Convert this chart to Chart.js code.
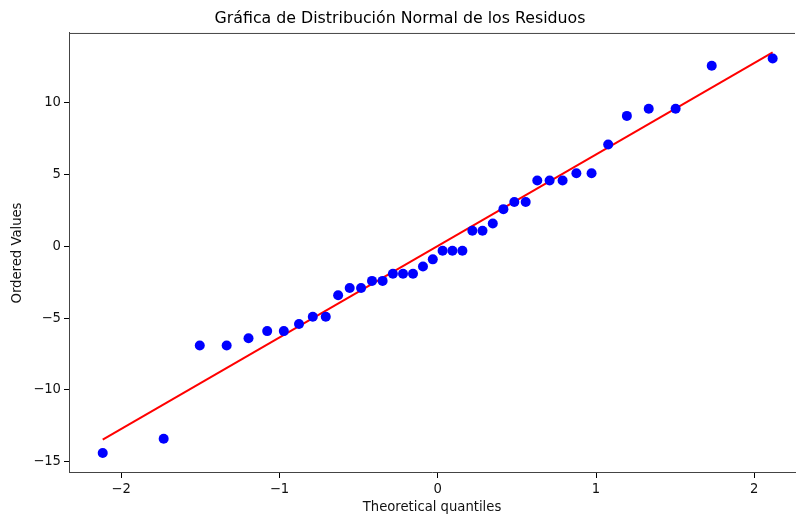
<!DOCTYPE html>
<html>
<head>
<meta charset="utf-8">
<script src="https://cdn.jsdelivr.net/npm/chart.js@4"></script>
<style>
  body { margin: 0; background: #fff; }
</style>
</head>
<body>
<canvas id="qqChart" width="800" height="515"></canvas>
<script>
// Theoretical quantiles (x) and ordered residuals (y)
const quantiles = [-2.116, -1.731, -1.503, -1.333, -1.195, -1.077, -0.972, -0.876, -0.789, -0.707,
  -0.629, -0.556, -0.484, -0.415, -0.348, -0.283, -0.219, -0.156, -0.093, -0.031,
  0.031, 0.093, 0.156, 0.219, 0.283, 0.348, 0.415, 0.484, 0.556, 0.629,
  0.707, 0.789, 0.876, 0.972, 1.077, 1.195, 1.333, 1.503, 1.731, 2.116];
const residuals = [-14.4, -13.4, -6.9, -6.9, -6.4, -5.9, -5.9, -5.4, -4.9, -4.9,
  -3.4, -2.9, -2.9, -2.4, -2.4, -1.9, -1.9, -1.9, -1.4, -0.9,
  -0.3, -0.3, -0.3, 1.1, 1.1, 1.6, 2.6, 3.1, 3.1, 4.6,
  4.6, 4.6, 5.1, 5.1, 7.1, 9.1, 9.6, 9.6, 12.6, 13.1];

// least squares line end points
const fitX = [-2.116, 2.116];
const fitY = [-13.47, 13.52];

const xTicks = [-2, -1, 0, 1, 2];
const yTicks = [-15, -10, -5, 0, 5, 10];

const font = "'DejaVu Sans', sans-serif";

// top spine (matplotlib draws a box round the axes)
const topSpine = {
    id: "topSpine",
    afterDraw(chart) {
        const a = chart.chartArea;
        const c = chart.ctx;
        c.save();
        c.strokeStyle = "#444";
        c.lineWidth = 1;
        c.beginPath();
        c.moveTo(a.left, a.top + 0.5);
        c.lineTo(a.right, a.top + 0.5);
        c.stroke();
        c.restore();
    }
};

new Chart(document.getElementById("qqChart").getContext("2d"), {
    type: "scatter",
    data: {
        datasets: [{
            label: "Residuos",
            data: quantiles.map((q, i) => ({ x: q, y: residuals[i] })),
            backgroundColor: "#0000ff",
            borderWidth: 0,
            pointRadius: 5,
            pointHoverRadius: 5
        }, {
            label: "Recta",
            type: "line",
            data: fitX.map((q, i) => ({ x: q, y: fitY[i] })),
            borderColor: "#ff0000",
            borderWidth: 2,
            pointRadius: 0,
            fill: false
        }]
    },
    options: {
        responsive: false,
        animation: false,
        layout: { padding: 0 },
        plugins: {
            legend: { display: false },
            tooltip: { enabled: false },
            title: {
                display: true,
                text: "Gráfica de Distribución Normal de los Residuos",
                color: "#000",
                font: { family: font, size: 15.8, weight: "normal" },
                padding: { top: 9, bottom: 5 }
            }
        },
        scales: {
            x: {
                type: "linear",
                min: -2.329,
                max: 2.257,
                afterFit: (s) => { s.height = 42; },
                afterBuildTicks: (s) => { s.ticks = xTicks.map(v => ({ value: v })); },
                border: { display: true, color: "#444", width: 1 },
                grid: { drawOnChartArea: false, drawTicks: true, tickLength: 5, tickColor: "#000" },
                ticks: {
                    color: "#111",
                    padding: 4,
                    font: { family: font, size: 13.2 },
                    callback: (v) => v < 0 ? "\u2212" + Math.abs(v) : String(v)
                },
                title: {
                    display: true,
                    text: "Theoretical quantiles",
                    color: "#111",
                    font: { family: font, size: 13.2 },
                    padding: { top: 0, bottom: 0 }
                }
            },
            y: {
                type: "linear",
                min: -15.79,
                max: 14.88,
                afterFit: (s) => { s.width = 69; },
                afterBuildTicks: (s) => { s.ticks = yTicks.map(v => ({ value: v })); },
                border: { display: true, color: "#444", width: 1 },
                grid: { drawOnChartArea: false, drawTicks: true, tickLength: 5, tickColor: "#000" },
                ticks: {
                    color: "#111",
                    padding: 3,
                    font: { family: font, size: 13.2 },
                    callback: (v) => v < 0 ? "\u2212" + Math.abs(v) : String(v)
                },
                title: {
                    display: true,
                    text: "Ordered Values",
                    color: "#111",
                    font: { family: font, size: 13.2 },
                    padding: { top: 10, bottom: 0 }
                }
            }
        }
    },
    plugins: [topSpine]
});
</script>
</body>
</html>
